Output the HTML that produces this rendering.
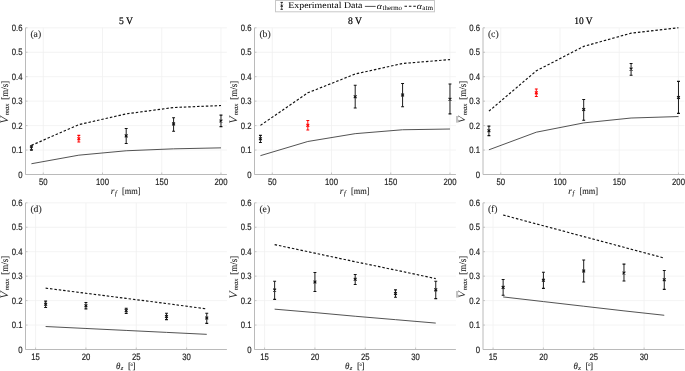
<!DOCTYPE html>
<html><head><meta charset="utf-8"><style>
html,body{margin:0;padding:0;background:#fff;}
body{width:685px;height:371px;overflow:hidden;}
svg{display:block;will-change:transform;}
text{text-rendering:geometricPrecision;}
text{font-family:"Liberation Serif",serif;}
.tl{font-family:"Liberation Sans",sans-serif;font-size:9.3px;fill:#262626;stroke:#262626;stroke-width:0.2px;}
.pl{font-size:9.7px;fill:#262626;stroke:#262626;stroke-width:0.1px;}
.lx{font-size:9.3px;fill:#262626;stroke:#262626;stroke-width:0.12px;}
.ls{font-size:6.6px;fill:#262626;stroke:#262626;stroke-width:0.1px;}
.tt{font-size:10px;fill:#000;stroke:#000;stroke-width:0.2px;}
.lg{font-size:8.9px;fill:#000;}
.lgs{font-size:7px;fill:#000;}
</style></head><body>
<svg width="685" height="371" viewBox="0 0 685 371">
<path d="M25.50 150.05H226.90 M25.50 125.60H226.90 M25.50 101.15H226.90 M25.50 76.70H226.90 M25.50 52.25H226.90 M25.50 27.80H226.90 M43.27 27.80V174.50 M102.51 27.80V174.50 M161.74 27.80V174.50 M220.98 27.80V174.50" stroke="#f0f0f0" stroke-width="0.8" fill="none"/>
<path d="M25.50 27.80V174.50H226.90" stroke="#bababa" stroke-width="1" fill="none"/>
<path d="M25.50 174.50h2 M25.50 150.05h2 M25.50 125.60h2 M25.50 101.15h2 M25.50 76.70h2 M25.50 52.25h2 M25.50 27.80h2 M43.27 174.50v-2 M102.51 174.50v-2 M161.74 174.50v-2 M220.98 174.50v-2" stroke="#bababa" stroke-width="0.8" fill="none"/>
<text transform="translate(22.50,177.50) scale(0.83,1)" class="tl" text-anchor="end">0</text>
<text transform="translate(22.50,153.05) scale(0.83,1)" class="tl" text-anchor="end">0.1</text>
<text transform="translate(22.50,128.60) scale(0.83,1)" class="tl" text-anchor="end">0.2</text>
<text transform="translate(22.50,104.15) scale(0.83,1)" class="tl" text-anchor="end">0.3</text>
<text transform="translate(22.50,79.70) scale(0.83,1)" class="tl" text-anchor="end">0.4</text>
<text transform="translate(22.50,55.25) scale(0.83,1)" class="tl" text-anchor="end">0.5</text>
<text transform="translate(22.50,30.80) scale(0.83,1)" class="tl" text-anchor="end">0.6</text>
<text transform="translate(43.27,184.60) scale(0.83,1)" class="tl" text-anchor="middle">50</text>
<text transform="translate(102.51,184.60) scale(0.83,1)" class="tl" text-anchor="middle">100</text>
<text transform="translate(161.74,184.60) scale(0.83,1)" class="tl" text-anchor="middle">150</text>
<text transform="translate(220.98,184.60) scale(0.83,1)" class="tl" text-anchor="middle">200</text>
<polyline points="31.42,163.74 78.81,155.18 126.20,150.78 173.59,148.83 220.98,147.85" stroke="#404040" stroke-width="0.9" fill="none"/>
<polyline points="31.42,145.40 78.81,124.62 126.20,113.86 173.59,107.51 220.98,105.55" stroke="#111" stroke-width="1.15" stroke-dasharray="2.5 1.9" fill="none"/>
<path d="M31.42 145.89V150.29" stroke="#111" stroke-width="0.95" fill="none"/>
<path d="M29.97 145.89h2.9M29.97 150.29h2.9" stroke="#111" stroke-width="1.1" fill="none"/>
<path d="M30.02 146.69l2.8 2.8M30.02 149.49l2.8 -2.8" stroke="#111" stroke-width="1.1" fill="none"/>
<path d="M78.81 135.38V141.98" stroke="#ff0000" stroke-width="0.95" fill="none"/>
<path d="M77.36 135.38h2.9M77.36 141.98h2.9" stroke="#ff0000" stroke-width="1.1" fill="none"/>
<path d="M77.41 137.40l2.8 2.8M77.41 140.20l2.8 -2.8" stroke="#ff0000" stroke-width="1.1" fill="none"/>
<path d="M126.20 128.53V143.45" stroke="#111" stroke-width="0.95" fill="none"/>
<path d="M124.75 128.53h2.9M124.75 143.45h2.9" stroke="#111" stroke-width="1.1" fill="none"/>
<path d="M124.80 134.47l2.8 2.8M124.80 137.27l2.8 -2.8" stroke="#111" stroke-width="1.1" fill="none"/>
<path d="M173.59 117.78V131.22" stroke="#111" stroke-width="0.95" fill="none"/>
<path d="M172.14 117.78h2.9M172.14 131.22h2.9" stroke="#111" stroke-width="1.1" fill="none"/>
<path d="M172.19 122.49l2.8 2.8M172.19 125.29l2.8 -2.8" stroke="#111" stroke-width="1.1" fill="none"/>
<path d="M220.98 115.09V126.58" stroke="#111" stroke-width="0.95" fill="none"/>
<path d="M219.53 115.09h2.9M219.53 126.58h2.9" stroke="#111" stroke-width="1.1" fill="none"/>
<path d="M219.58 119.55l2.8 2.8M219.58 122.35l2.8 -2.8" stroke="#111" stroke-width="1.1" fill="none"/>
<text x="30.40" y="37.40" class="pl">(a)</text>
<g transform="translate(7.50,123.05) rotate(-90)"><text x="-0.6" y="0" class="lx" font-style="italic" style="stroke:none;font-size:11.6px" textLength="7.4" lengthAdjust="spacingAndGlyphs">V</text><text x="7.7" y="1.5" class="ls" font-style="italic" textLength="11.6" lengthAdjust="spacingAndGlyphs">max</text><text x="23.4" y="0.6" class="lx" style="font-size:9.8px" textLength="18.9" lengthAdjust="spacingAndGlyphs">[m/s]</text></g>
<text x="110.70" y="193.80" class="lx" font-style="italic">r</text>
<text x="115.00" y="195.10" class="ls" font-style="italic">f</text>
<text x="122.00" y="193.80" class="lx" textLength="18.6" lengthAdjust="spacingAndGlyphs">[mm]</text>
<path d="M254.50 150.05H455.90 M254.50 125.60H455.90 M254.50 101.15H455.90 M254.50 76.70H455.90 M254.50 52.25H455.90 M254.50 27.80H455.90 M272.27 27.80V174.50 M331.51 27.80V174.50 M390.74 27.80V174.50 M449.98 27.80V174.50" stroke="#f0f0f0" stroke-width="0.8" fill="none"/>
<path d="M254.50 27.80V174.50H455.90" stroke="#bababa" stroke-width="1" fill="none"/>
<path d="M254.50 174.50h2 M254.50 150.05h2 M254.50 125.60h2 M254.50 101.15h2 M254.50 76.70h2 M254.50 52.25h2 M254.50 27.80h2 M272.27 174.50v-2 M331.51 174.50v-2 M390.74 174.50v-2 M449.98 174.50v-2" stroke="#bababa" stroke-width="0.8" fill="none"/>
<text transform="translate(251.50,177.50) scale(0.83,1)" class="tl" text-anchor="end">0</text>
<text transform="translate(251.50,153.05) scale(0.83,1)" class="tl" text-anchor="end">0.1</text>
<text transform="translate(251.50,128.60) scale(0.83,1)" class="tl" text-anchor="end">0.2</text>
<text transform="translate(251.50,104.15) scale(0.83,1)" class="tl" text-anchor="end">0.3</text>
<text transform="translate(251.50,79.70) scale(0.83,1)" class="tl" text-anchor="end">0.4</text>
<text transform="translate(251.50,55.25) scale(0.83,1)" class="tl" text-anchor="end">0.5</text>
<text transform="translate(251.50,30.80) scale(0.83,1)" class="tl" text-anchor="end">0.6</text>
<text transform="translate(272.27,184.60) scale(0.83,1)" class="tl" text-anchor="middle">50</text>
<text transform="translate(331.51,184.60) scale(0.83,1)" class="tl" text-anchor="middle">100</text>
<text transform="translate(390.74,184.60) scale(0.83,1)" class="tl" text-anchor="middle">150</text>
<text transform="translate(449.98,184.60) scale(0.83,1)" class="tl" text-anchor="middle">200</text>
<polyline points="260.42,155.67 307.81,141.49 355.20,133.67 402.59,129.76 449.98,129.02" stroke="#404040" stroke-width="0.9" fill="none"/>
<polyline points="260.42,125.36 307.81,92.84 355.20,74.01 402.59,63.50 449.98,59.59" stroke="#111" stroke-width="1.15" stroke-dasharray="2.5 1.9" fill="none"/>
<path d="M260.42 135.38V142.47" stroke="#111" stroke-width="0.95" fill="none"/>
<path d="M258.97 135.38h2.9M258.97 142.47h2.9" stroke="#111" stroke-width="1.1" fill="none"/>
<path d="M259.02 137.40l2.8 2.8M259.02 140.20l2.8 -2.8" stroke="#111" stroke-width="1.1" fill="none"/>
<path d="M307.81 120.47V130.00" stroke="#ff0000" stroke-width="0.95" fill="none"/>
<path d="M306.36 120.47h2.9M306.36 130.00h2.9" stroke="#ff0000" stroke-width="1.1" fill="none"/>
<path d="M306.41 123.96l2.8 2.8M306.41 126.76l2.8 -2.8" stroke="#ff0000" stroke-width="1.1" fill="none"/>
<path d="M355.20 85.26V108.00" stroke="#111" stroke-width="0.95" fill="none"/>
<path d="M353.75 85.26h2.9M353.75 108.00h2.9" stroke="#111" stroke-width="1.1" fill="none"/>
<path d="M353.80 95.35l2.8 2.8M353.80 98.15l2.8 -2.8" stroke="#111" stroke-width="1.1" fill="none"/>
<path d="M402.59 83.55V106.77" stroke="#111" stroke-width="0.95" fill="none"/>
<path d="M401.14 83.55h2.9M401.14 106.77h2.9" stroke="#111" stroke-width="1.1" fill="none"/>
<path d="M401.19 93.64l2.8 2.8M401.19 96.44l2.8 -2.8" stroke="#111" stroke-width="1.1" fill="none"/>
<path d="M449.98 84.03V113.86" stroke="#111" stroke-width="0.95" fill="none"/>
<path d="M448.53 84.03h2.9M448.53 113.86h2.9" stroke="#111" stroke-width="1.1" fill="none"/>
<path d="M448.58 97.79l2.8 2.8M448.58 100.59l2.8 -2.8" stroke="#111" stroke-width="1.1" fill="none"/>
<text x="259.40" y="37.40" class="pl">(b)</text>
<g transform="translate(236.50,123.05) rotate(-90)"><text x="-0.6" y="0" class="lx" font-style="italic" style="stroke:none;font-size:11.6px" textLength="7.4" lengthAdjust="spacingAndGlyphs">V</text><text x="7.7" y="1.5" class="ls" font-style="italic" textLength="11.6" lengthAdjust="spacingAndGlyphs">max</text><text x="23.4" y="0.6" class="lx" style="font-size:9.8px" textLength="18.9" lengthAdjust="spacingAndGlyphs">[m/s]</text></g>
<text x="339.70" y="193.80" class="lx" font-style="italic">r</text>
<text x="344.00" y="195.10" class="ls" font-style="italic">f</text>
<text x="351.00" y="193.80" class="lx" textLength="18.6" lengthAdjust="spacingAndGlyphs">[mm]</text>
<path d="M483.00 150.05H684.40 M483.00 125.60H684.40 M483.00 101.15H684.40 M483.00 76.70H684.40 M483.00 52.25H684.40 M483.00 27.80H684.40 M500.77 27.80V174.50 M560.01 27.80V174.50 M619.24 27.80V174.50 M678.48 27.80V174.50" stroke="#f0f0f0" stroke-width="0.8" fill="none"/>
<path d="M483.00 27.80V174.50H684.40" stroke="#bababa" stroke-width="1" fill="none"/>
<path d="M483.00 174.50h2 M483.00 150.05h2 M483.00 125.60h2 M483.00 101.15h2 M483.00 76.70h2 M483.00 52.25h2 M483.00 27.80h2 M500.77 174.50v-2 M560.01 174.50v-2 M619.24 174.50v-2 M678.48 174.50v-2" stroke="#bababa" stroke-width="0.8" fill="none"/>
<text transform="translate(480.00,177.50) scale(0.83,1)" class="tl" text-anchor="end">0</text>
<text transform="translate(480.00,153.05) scale(0.83,1)" class="tl" text-anchor="end">0.1</text>
<text transform="translate(480.00,128.60) scale(0.83,1)" class="tl" text-anchor="end">0.2</text>
<text transform="translate(480.00,104.15) scale(0.83,1)" class="tl" text-anchor="end">0.3</text>
<text transform="translate(480.00,79.70) scale(0.83,1)" class="tl" text-anchor="end">0.4</text>
<text transform="translate(480.00,55.25) scale(0.83,1)" class="tl" text-anchor="end">0.5</text>
<text transform="translate(480.00,30.80) scale(0.83,1)" class="tl" text-anchor="end">0.6</text>
<text transform="translate(500.77,184.60) scale(0.83,1)" class="tl" text-anchor="middle">50</text>
<text transform="translate(560.01,184.60) scale(0.83,1)" class="tl" text-anchor="middle">100</text>
<text transform="translate(619.24,184.60) scale(0.83,1)" class="tl" text-anchor="middle">150</text>
<text transform="translate(678.48,184.60) scale(0.83,1)" class="tl" text-anchor="middle">200</text>
<polyline points="488.92,149.81 536.31,132.20 583.70,122.91 631.09,118.02 678.48,116.55" stroke="#404040" stroke-width="0.9" fill="none"/>
<polyline points="488.92,111.17 536.31,70.83 583.70,46.38 631.09,33.18 678.48,27.80" stroke="#111" stroke-width="1.15" stroke-dasharray="2.5 1.9" fill="none"/>
<path d="M488.92 126.09V135.62" stroke="#111" stroke-width="0.95" fill="none"/>
<path d="M487.47 126.09h2.9M487.47 135.62h2.9" stroke="#111" stroke-width="1.1" fill="none"/>
<path d="M487.52 129.33l2.8 2.8M487.52 132.13l2.8 -2.8" stroke="#111" stroke-width="1.1" fill="none"/>
<path d="M536.31 88.93V96.50" stroke="#ff0000" stroke-width="0.95" fill="none"/>
<path d="M534.86 88.93h2.9M534.86 96.50h2.9" stroke="#ff0000" stroke-width="1.1" fill="none"/>
<path d="M534.91 91.44l2.8 2.8M534.91 94.24l2.8 -2.8" stroke="#ff0000" stroke-width="1.1" fill="none"/>
<path d="M583.70 99.44V120.22" stroke="#111" stroke-width="0.95" fill="none"/>
<path d="M582.25 99.44h2.9M582.25 120.22h2.9" stroke="#111" stroke-width="1.1" fill="none"/>
<path d="M582.30 108.06l2.8 2.8M582.30 110.86l2.8 -2.8" stroke="#111" stroke-width="1.1" fill="none"/>
<path d="M631.09 63.50V75.23" stroke="#111" stroke-width="0.95" fill="none"/>
<path d="M629.64 63.50h2.9M629.64 75.23h2.9" stroke="#111" stroke-width="1.1" fill="none"/>
<path d="M629.69 67.72l2.8 2.8M629.69 70.52l2.8 -2.8" stroke="#111" stroke-width="1.1" fill="none"/>
<path d="M678.48 81.35V113.38" stroke="#111" stroke-width="0.95" fill="none"/>
<path d="M677.03 81.35h2.9M677.03 113.38h2.9" stroke="#111" stroke-width="1.1" fill="none"/>
<path d="M677.08 96.08l2.8 2.8M677.08 98.88l2.8 -2.8" stroke="#111" stroke-width="1.1" fill="none"/>
<text x="487.90" y="37.40" class="pl">(c)</text>
<g transform="translate(465.00,123.05) rotate(-90)"><text x="0" y="0" class="lx" font-style="italic" style="stroke:none;font-size:9.8px" textLength="6.8" lengthAdjust="spacingAndGlyphs">V</text><path d="M0.4 -8.0H7.0" stroke="#262626" stroke-width="0.7" opacity="0.8"/><text x="7.7" y="1.5" class="ls" font-style="italic" textLength="11.6" lengthAdjust="spacingAndGlyphs">max</text><text x="23.4" y="0.6" class="lx" style="font-size:9.8px" textLength="18.9" lengthAdjust="spacingAndGlyphs">[m/s]</text></g>
<text x="568.20" y="193.80" class="lx" font-style="italic">r</text>
<text x="572.50" y="195.10" class="ls" font-style="italic">f</text>
<text x="579.50" y="193.80" class="lx" textLength="18.6" lengthAdjust="spacingAndGlyphs">[mm]</text>
<path d="M25.50 325.05H226.90 M25.50 300.60H226.90 M25.50 276.15H226.90 M25.50 251.70H226.90 M25.50 227.25H226.90 M25.50 202.80H226.90 M35.57 202.80V349.50 M85.92 202.80V349.50 M136.27 202.80V349.50 M186.62 202.80V349.50" stroke="#f0f0f0" stroke-width="0.8" fill="none"/>
<path d="M25.50 202.80V349.50H226.90" stroke="#bababa" stroke-width="1" fill="none"/>
<path d="M25.50 349.50h2 M25.50 325.05h2 M25.50 300.60h2 M25.50 276.15h2 M25.50 251.70h2 M25.50 227.25h2 M25.50 202.80h2 M35.57 349.50v-2 M85.92 349.50v-2 M136.27 349.50v-2 M186.62 349.50v-2" stroke="#bababa" stroke-width="0.8" fill="none"/>
<text transform="translate(22.50,352.50) scale(0.83,1)" class="tl" text-anchor="end">0</text>
<text transform="translate(22.50,328.05) scale(0.83,1)" class="tl" text-anchor="end">0.1</text>
<text transform="translate(22.50,303.60) scale(0.83,1)" class="tl" text-anchor="end">0.2</text>
<text transform="translate(22.50,279.15) scale(0.83,1)" class="tl" text-anchor="end">0.3</text>
<text transform="translate(22.50,254.70) scale(0.83,1)" class="tl" text-anchor="end">0.4</text>
<text transform="translate(22.50,230.25) scale(0.83,1)" class="tl" text-anchor="end">0.5</text>
<text transform="translate(22.50,205.80) scale(0.83,1)" class="tl" text-anchor="end">0.6</text>
<text transform="translate(35.57,359.60) scale(0.83,1)" class="tl" text-anchor="middle">15</text>
<text transform="translate(85.92,359.60) scale(0.83,1)" class="tl" text-anchor="middle">20</text>
<text transform="translate(136.27,359.60) scale(0.83,1)" class="tl" text-anchor="middle">25</text>
<text transform="translate(186.62,359.60) scale(0.83,1)" class="tl" text-anchor="middle">30</text>
<polyline points="45.64,326.52 85.92,328.47 126.20,330.43 166.48,332.38 206.76,334.34" stroke="#404040" stroke-width="0.9" fill="none"/>
<polyline points="45.64,288.13 85.92,293.26 126.20,298.40 166.48,303.53 206.76,308.91" stroke="#111" stroke-width="1.15" stroke-dasharray="2.5 1.9" fill="none"/>
<path d="M45.64 301.09V307.45" stroke="#111" stroke-width="0.95" fill="none"/>
<path d="M44.19 301.09h2.9M44.19 307.45h2.9" stroke="#111" stroke-width="1.1" fill="none"/>
<path d="M44.24 302.87l2.8 2.8M44.24 305.67l2.8 -2.8" stroke="#111" stroke-width="1.1" fill="none"/>
<path d="M85.92 302.56V308.91" stroke="#111" stroke-width="0.95" fill="none"/>
<path d="M84.47 302.56h2.9M84.47 308.91h2.9" stroke="#111" stroke-width="1.1" fill="none"/>
<path d="M84.52 304.33l2.8 2.8M84.52 307.13l2.8 -2.8" stroke="#111" stroke-width="1.1" fill="none"/>
<path d="M126.20 308.18V313.56" stroke="#111" stroke-width="0.95" fill="none"/>
<path d="M124.75 308.18h2.9M124.75 313.56h2.9" stroke="#111" stroke-width="1.1" fill="none"/>
<path d="M124.80 309.22l2.8 2.8M124.80 312.02l2.8 -2.8" stroke="#111" stroke-width="1.1" fill="none"/>
<path d="M166.48 313.31V319.67" stroke="#111" stroke-width="0.95" fill="none"/>
<path d="M165.03 313.31h2.9M165.03 319.67h2.9" stroke="#111" stroke-width="1.1" fill="none"/>
<path d="M165.08 315.09l2.8 2.8M165.08 317.89l2.8 -2.8" stroke="#111" stroke-width="1.1" fill="none"/>
<path d="M206.76 313.31V323.34" stroke="#111" stroke-width="0.95" fill="none"/>
<path d="M205.31 313.31h2.9M205.31 323.34h2.9" stroke="#111" stroke-width="1.1" fill="none"/>
<path d="M205.36 316.56l2.8 2.8M205.36 319.36l2.8 -2.8" stroke="#111" stroke-width="1.1" fill="none"/>
<text x="30.40" y="212.40" class="pl">(d)</text>
<g transform="translate(7.50,298.05) rotate(-90)"><text x="-0.6" y="0" class="lx" font-style="italic" style="stroke:none;font-size:11.6px" textLength="7.4" lengthAdjust="spacingAndGlyphs">V</text><text x="7.7" y="1.5" class="ls" font-style="italic" textLength="11.6" lengthAdjust="spacingAndGlyphs">max</text><text x="23.4" y="0.6" class="lx" style="font-size:9.8px" textLength="18.9" lengthAdjust="spacingAndGlyphs">[m/s]</text></g>
<text x="115.90" y="369.00" class="lx" font-style="italic" textLength="4.4" lengthAdjust="spacingAndGlyphs">θ</text>
<text x="120.80" y="369.70" class="ls" font-style="italic">z</text>
<text x="128.00" y="369.00" class="lx">[</text>
<text x="130.60" y="365.80" class="ls" style="font-size:5px">o</text>
<text x="132.40" y="369.00" class="lx">]</text>
<path d="M254.50 325.05H455.90 M254.50 300.60H455.90 M254.50 276.15H455.90 M254.50 251.70H455.90 M254.50 227.25H455.90 M254.50 202.80H455.90 M264.57 202.80V349.50 M314.92 202.80V349.50 M365.27 202.80V349.50 M415.62 202.80V349.50" stroke="#f0f0f0" stroke-width="0.8" fill="none"/>
<path d="M254.50 202.80V349.50H455.90" stroke="#bababa" stroke-width="1" fill="none"/>
<path d="M254.50 349.50h2 M254.50 325.05h2 M254.50 300.60h2 M254.50 276.15h2 M254.50 251.70h2 M254.50 227.25h2 M254.50 202.80h2 M264.57 349.50v-2 M314.92 349.50v-2 M365.27 349.50v-2 M415.62 349.50v-2" stroke="#bababa" stroke-width="0.8" fill="none"/>
<text transform="translate(251.50,352.50) scale(0.83,1)" class="tl" text-anchor="end">0</text>
<text transform="translate(251.50,328.05) scale(0.83,1)" class="tl" text-anchor="end">0.1</text>
<text transform="translate(251.50,303.60) scale(0.83,1)" class="tl" text-anchor="end">0.2</text>
<text transform="translate(251.50,279.15) scale(0.83,1)" class="tl" text-anchor="end">0.3</text>
<text transform="translate(251.50,254.70) scale(0.83,1)" class="tl" text-anchor="end">0.4</text>
<text transform="translate(251.50,230.25) scale(0.83,1)" class="tl" text-anchor="end">0.5</text>
<text transform="translate(251.50,205.80) scale(0.83,1)" class="tl" text-anchor="end">0.6</text>
<text transform="translate(264.57,359.60) scale(0.83,1)" class="tl" text-anchor="middle">15</text>
<text transform="translate(314.92,359.60) scale(0.83,1)" class="tl" text-anchor="middle">20</text>
<text transform="translate(365.27,359.60) scale(0.83,1)" class="tl" text-anchor="middle">25</text>
<text transform="translate(415.62,359.60) scale(0.83,1)" class="tl" text-anchor="middle">30</text>
<polyline points="274.64,309.16 314.92,312.58 355.20,316.25 395.48,319.67 435.76,323.09" stroke="#404040" stroke-width="0.9" fill="none"/>
<polyline points="274.64,244.61 314.92,253.17 355.20,261.72 395.48,270.04 435.76,278.60" stroke="#111" stroke-width="1.15" stroke-dasharray="2.5 1.9" fill="none"/>
<path d="M274.64 281.28V299.38" stroke="#111" stroke-width="0.95" fill="none"/>
<path d="M273.19 281.28h2.9M273.19 299.38h2.9" stroke="#111" stroke-width="1.1" fill="none"/>
<path d="M273.24 288.69l2.8 2.8M273.24 291.49l2.8 -2.8" stroke="#111" stroke-width="1.1" fill="none"/>
<path d="M314.92 272.48V291.55" stroke="#111" stroke-width="0.95" fill="none"/>
<path d="M313.47 272.48h2.9M313.47 291.55h2.9" stroke="#111" stroke-width="1.1" fill="none"/>
<path d="M313.52 280.62l2.8 2.8M313.52 283.42l2.8 -2.8" stroke="#111" stroke-width="1.1" fill="none"/>
<path d="M355.20 274.44V284.46" stroke="#111" stroke-width="0.95" fill="none"/>
<path d="M353.75 274.44h2.9M353.75 284.46h2.9" stroke="#111" stroke-width="1.1" fill="none"/>
<path d="M353.80 277.93l2.8 2.8M353.80 280.73l2.8 -2.8" stroke="#111" stroke-width="1.1" fill="none"/>
<path d="M395.48 289.84V297.18" stroke="#111" stroke-width="0.95" fill="none"/>
<path d="M394.03 289.84h2.9M394.03 297.18h2.9" stroke="#111" stroke-width="1.1" fill="none"/>
<path d="M394.08 292.11l2.8 2.8M394.08 294.91l2.8 -2.8" stroke="#111" stroke-width="1.1" fill="none"/>
<path d="M435.76 281.28V298.64" stroke="#111" stroke-width="0.95" fill="none"/>
<path d="M434.31 281.28h2.9M434.31 298.64h2.9" stroke="#111" stroke-width="1.1" fill="none"/>
<path d="M434.36 288.44l2.8 2.8M434.36 291.24l2.8 -2.8" stroke="#111" stroke-width="1.1" fill="none"/>
<text x="259.40" y="212.40" class="pl">(e)</text>
<g transform="translate(236.50,298.05) rotate(-90)"><text x="-0.6" y="0" class="lx" font-style="italic" style="stroke:none;font-size:11.6px" textLength="7.4" lengthAdjust="spacingAndGlyphs">V</text><text x="7.7" y="1.5" class="ls" font-style="italic" textLength="11.6" lengthAdjust="spacingAndGlyphs">max</text><text x="23.4" y="0.6" class="lx" style="font-size:9.8px" textLength="18.9" lengthAdjust="spacingAndGlyphs">[m/s]</text></g>
<text x="344.90" y="369.00" class="lx" font-style="italic" textLength="4.4" lengthAdjust="spacingAndGlyphs">θ</text>
<text x="349.80" y="369.70" class="ls" font-style="italic">z</text>
<text x="357.00" y="369.00" class="lx">[</text>
<text x="359.60" y="365.80" class="ls" style="font-size:5px">o</text>
<text x="361.40" y="369.00" class="lx">]</text>
<path d="M483.00 325.05H684.40 M483.00 300.60H684.40 M483.00 276.15H684.40 M483.00 251.70H684.40 M483.00 227.25H684.40 M483.00 202.80H684.40 M493.07 202.80V349.50 M543.42 202.80V349.50 M593.77 202.80V349.50 M644.12 202.80V349.50" stroke="#f0f0f0" stroke-width="0.8" fill="none"/>
<path d="M483.00 202.80V349.50H684.40" stroke="#bababa" stroke-width="1" fill="none"/>
<path d="M483.00 349.50h2 M483.00 325.05h2 M483.00 300.60h2 M483.00 276.15h2 M483.00 251.70h2 M483.00 227.25h2 M483.00 202.80h2 M493.07 349.50v-2 M543.42 349.50v-2 M593.77 349.50v-2 M644.12 349.50v-2" stroke="#bababa" stroke-width="0.8" fill="none"/>
<text transform="translate(480.00,352.50) scale(0.83,1)" class="tl" text-anchor="end">0</text>
<text transform="translate(480.00,328.05) scale(0.83,1)" class="tl" text-anchor="end">0.1</text>
<text transform="translate(480.00,303.60) scale(0.83,1)" class="tl" text-anchor="end">0.2</text>
<text transform="translate(480.00,279.15) scale(0.83,1)" class="tl" text-anchor="end">0.3</text>
<text transform="translate(480.00,254.70) scale(0.83,1)" class="tl" text-anchor="end">0.4</text>
<text transform="translate(480.00,230.25) scale(0.83,1)" class="tl" text-anchor="end">0.5</text>
<text transform="translate(480.00,205.80) scale(0.83,1)" class="tl" text-anchor="end">0.6</text>
<text transform="translate(493.07,359.60) scale(0.83,1)" class="tl" text-anchor="middle">15</text>
<text transform="translate(543.42,359.60) scale(0.83,1)" class="tl" text-anchor="middle">20</text>
<text transform="translate(593.77,359.60) scale(0.83,1)" class="tl" text-anchor="middle">25</text>
<text transform="translate(644.12,359.60) scale(0.83,1)" class="tl" text-anchor="middle">30</text>
<polyline points="503.14,296.93 543.42,301.58 583.70,306.22 623.98,310.87 664.26,315.27" stroke="#404040" stroke-width="0.9" fill="none"/>
<polyline points="503.14,215.02 543.42,225.78 583.70,236.54 623.98,247.30 664.26,258.06" stroke="#111" stroke-width="1.15" stroke-dasharray="2.5 1.9" fill="none"/>
<path d="M503.14 279.57V295.22" stroke="#111" stroke-width="0.95" fill="none"/>
<path d="M501.69 279.57h2.9M501.69 295.22h2.9" stroke="#111" stroke-width="1.1" fill="none"/>
<path d="M501.74 286.00l2.8 2.8M501.74 288.80l2.8 -2.8" stroke="#111" stroke-width="1.1" fill="none"/>
<path d="M543.42 272.24V288.38" stroke="#111" stroke-width="0.95" fill="none"/>
<path d="M541.97 272.24h2.9M541.97 288.38h2.9" stroke="#111" stroke-width="1.1" fill="none"/>
<path d="M542.02 278.91l2.8 2.8M542.02 281.71l2.8 -2.8" stroke="#111" stroke-width="1.1" fill="none"/>
<path d="M583.70 260.01V282.02" stroke="#111" stroke-width="0.95" fill="none"/>
<path d="M582.25 260.01h2.9M582.25 282.02h2.9" stroke="#111" stroke-width="1.1" fill="none"/>
<path d="M582.30 269.62l2.8 2.8M582.30 272.42l2.8 -2.8" stroke="#111" stroke-width="1.1" fill="none"/>
<path d="M623.98 264.17V281.04" stroke="#111" stroke-width="0.95" fill="none"/>
<path d="M622.53 264.17h2.9M622.53 281.04h2.9" stroke="#111" stroke-width="1.1" fill="none"/>
<path d="M622.58 271.57l2.8 2.8M622.58 274.37l2.8 -2.8" stroke="#111" stroke-width="1.1" fill="none"/>
<path d="M664.26 270.53V289.35" stroke="#111" stroke-width="0.95" fill="none"/>
<path d="M662.81 270.53h2.9M662.81 289.35h2.9" stroke="#111" stroke-width="1.1" fill="none"/>
<path d="M662.86 278.42l2.8 2.8M662.86 281.22l2.8 -2.8" stroke="#111" stroke-width="1.1" fill="none"/>
<text x="487.90" y="212.40" class="pl">(f)</text>
<g transform="translate(465.00,298.05) rotate(-90)"><text x="0" y="0" class="lx" font-style="italic" style="stroke:none;font-size:9.8px" textLength="6.8" lengthAdjust="spacingAndGlyphs">V</text><path d="M0.4 -8.0H7.0" stroke="#262626" stroke-width="0.7" opacity="0.8"/><text x="7.7" y="1.5" class="ls" font-style="italic" textLength="11.6" lengthAdjust="spacingAndGlyphs">max</text><text x="23.4" y="0.6" class="lx" style="font-size:9.8px" textLength="18.9" lengthAdjust="spacingAndGlyphs">[m/s]</text></g>
<text x="573.40" y="369.00" class="lx" font-style="italic" textLength="4.4" lengthAdjust="spacingAndGlyphs">θ</text>
<text x="578.30" y="369.70" class="ls" font-style="italic">z</text>
<text x="585.50" y="369.00" class="lx">[</text>
<text x="588.10" y="365.80" class="ls" style="font-size:5px">o</text>
<text x="589.90" y="369.00" class="lx">]</text>
<text x="118.90" y="23.6" class="tt" textLength="14.0" lengthAdjust="spacingAndGlyphs">5 V</text>
<text x="347.90" y="23.6" class="tt" textLength="14.0" lengthAdjust="spacingAndGlyphs">8 V</text>
<text x="574.20" y="23.6" class="tt" textLength="18.4" lengthAdjust="spacingAndGlyphs">10 V</text>
<rect x="275.5" y="0.5" width="159" height="11.3" fill="#fff" stroke="#c8c8c8" stroke-width="1"/>
<path d="M281.7 2.4V9.3" stroke="#222" stroke-width="0.7"/>
<path d="M280.5 2.4h2.4M280.5 9.3h2.4M280.6 4.8l2.2 2.2M280.6 7l2.2 -2.2" stroke="#111" stroke-width="0.9" fill="none"/>
<text x="288.3" y="8.3" class="lg" textLength="74.2" lengthAdjust="spacingAndGlyphs">Experimental Data</text>
<path d="M364.9 6.4H375.7" stroke="#404040" stroke-width="0.9"/>
<text x="376.8" y="8.7" class="lg" font-style="italic" textLength="5.2" lengthAdjust="spacingAndGlyphs">α</text>
<text x="382.6" y="9.6" class="lgs" textLength="19.4" lengthAdjust="spacingAndGlyphs">thermo</text>
<path d="M404.5 6.3H415.8" stroke="#111" stroke-width="1.1" stroke-dasharray="2.5 1.9"/>
<text x="416.8" y="8.7" class="lg" font-style="italic" textLength="5.2" lengthAdjust="spacingAndGlyphs">α</text>
<text x="422.3" y="9.6" class="lgs" textLength="10.7" lengthAdjust="spacingAndGlyphs">atm</text>
</svg>
</body></html>
